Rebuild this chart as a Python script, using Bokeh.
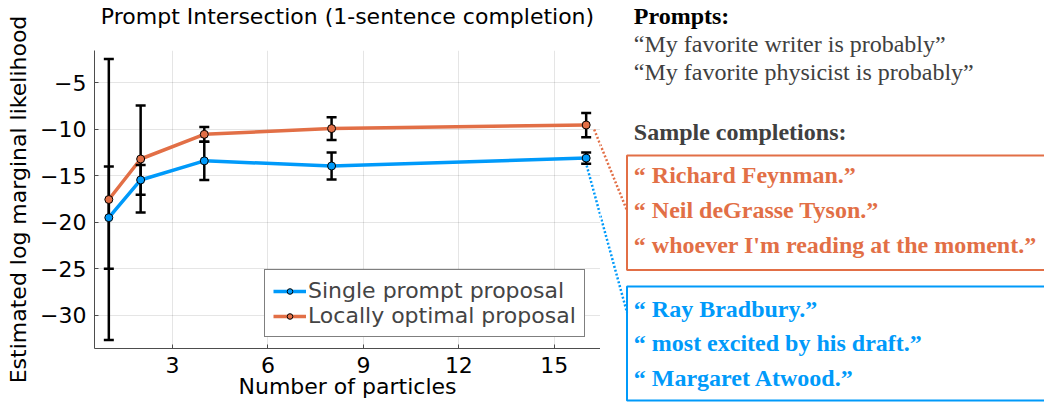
from bokeh.plotting import figure
from bokeh.models import Range1d, FixedTicker, Legend, LegendItem, ColumnDataSource, Title
from bokeh.layouts import row, column
from bokeh.embed import file_html
from bokeh.resources import INLINE
from bokeh.core.properties import value

# ---------------- data ----------------
particles = [1, 2, 4, 8, 16]
single_prompt = [-19.5, -15.45, -13.4, -13.95, -13.1]
single_prompt_err = [5.5, 1.6, 2.05, 1.45, 0.6]
locally_optimal = [-17.55, -13.2, -10.55, -9.93, -9.55]
locally_optimal_err = [15.1, 5.75, 0.8, 1.22, 1.3]
series_labels = ["Single prompt proposal", "Locally optimal proposal"]

x_ticks = [3, 6, 9, 12, 15]
y_ticks = [-30, -25, -20, -15, -10, -5]
y_tick_labels = ["\u221230", "\u221225", "\u221220", "\u221215", "\u221210", "\u22125"]

title_text = "Prompt Intersection (1-sentence completion)"
x_label = "Number of particles"
y_label = "Estimated log marginal likelihood"

prompts_header = "Prompts:"
prompts = ["\u201cMy favorite writer is probably\u201d",
           "\u201cMy favorite physicist is probably\u201d"]
completions_header = "Sample completions:"
locally_optimal_samples = ["\u201c Richard Feynman.\u201d",
                           "\u201c Neil deGrasse Tyson.\u201d",
                           "\u201c whoever I'm reading at the moment.\u201d"]
single_prompt_samples = ["\u201c Ray Bradbury.\u201d",
                         "\u201c most excited by his draft.\u201d",
                         "\u201c Margaret Atwood.\u201d"]

# ---------------- style / layout ----------------
BLUE = "#009AFA"
ORANGE = "#E26F46"
AXIS_COLOR = "#4d4d4d"
SANS = "DejaVu Sans"
SERIF = "Liberation Serif"

LEFT_W, RIGHT_W, H = 600, 444, 402
# chart frame in page pixels
FL, FR, FT, FB = 94, 600, 50, 348

def lohi(vals, errs):
    return [v - e for v, e in zip(vals, errs)], [v + e for v, e in zip(vals, errs)]

s_lo, s_hi = lohi(single_prompt, single_prompt_err)
l_lo, l_hi = lohi(locally_optimal, locally_optimal_err)

xmin, xmax = min(particles), max(particles)
ymin, ymax = min(s_lo + l_lo), max(s_hi + l_hi)
X0, X1 = xmin - 0.03 * (xmax - xmin), xmax + 0.03 * (xmax - xmin)
Y0, Y1 = ymin - 0.03 * (ymax - ymin), ymax + 0.03 * (ymax - ymin)

p = figure(width=LEFT_W, height=H, x_range=Range1d(X0, X1), y_range=Range1d(Y0, Y1),
           output_backend="svg", toolbar_location=None, title=title_text,
           min_border_left=FL, min_border_right=LEFT_W - FR,
           min_border_top=FT, min_border_bottom=H - FB)
p.outline_line_color = None
p.background_fill_color = "white"
p.border_fill_color = "white"

p.title.text_font = SANS
p.title.text_font_size = "22px"
p.title.text_font_style = "normal"
p.title.text_color = "black"
p.title.align = "center"
p.title.vertical_align = "bottom"
p.title.standoff = 0
# blank spacer between the title and the frame (lifts the title to the top edge)
spacer = Title(text=" ", text_font_size="18px", standoff=0)
p.above = [spacer] + list(p.above)

p.xaxis.ticker = FixedTicker(ticks=x_ticks)
p.yaxis.ticker = FixedTicker(ticks=y_ticks)
p.yaxis.major_label_overrides = {t: l for t, l in zip(y_ticks, y_tick_labels)}
p.xaxis.axis_label = x_label
p.yaxis.axis_label = y_label
for ax in (p.xaxis[0], p.yaxis[0]):
    ax.axis_line_color = AXIS_COLOR
    ax.axis_line_width = 1
    ax.major_tick_line_color = AXIS_COLOR
    ax.major_tick_in = 4
    ax.major_tick_out = 0
    ax.minor_tick_line_color = None
    ax.major_label_text_font = SANS
    ax.major_label_text_font_size = "22px"
    ax.major_label_text_color = "black"
    ax.axis_label_text_font = SANS
    ax.axis_label_text_font_size = "22px"
    ax.axis_label_text_font_style = "normal"
    ax.axis_label_text_color = "black"
p.xaxis.major_label_standoff = 8
p.xaxis.axis_label_standoff = -2
p.yaxis.major_label_standoff = 8
p.yaxis.axis_label_standoff = 6

p.grid.grid_line_color = "black"
p.grid.grid_line_alpha = 0.1
p.grid.grid_line_width = 1

src_s = ColumnDataSource(dict(x=particles, y=single_prompt, lo=s_lo, hi=s_hi))
src_l = ColumnDataSource(dict(x=particles, y=locally_optimal, lo=l_lo, hi=l_hi))

px_per_x = (FR - FL) / (X1 - X0)
px_per_y = (FB - FT) / (Y1 - Y0)
def page_to_data(X, Y):
    return X0 + (X - FL) / px_per_x, Y1 - (Y - FT) / px_per_y
def data_to_page(x, y):
    return FL + (x - X0) * px_per_x, FT + (Y1 - y) * px_per_y

ORANGE_BOX = (155, 269.5)
BLUE_BOX = (286, 400)
BOX_LEFT = 626.5
BOX_RIGHT = LEFT_W + RIGHT_W + 30

o_start = data_to_page(particles[-1], locally_optimal[-1])
o_start = (o_start[0] + 8, o_start[1] + 4.5)
o_end = (BOX_LEFT, ORANGE_BOX[0] + 55)
b_start = data_to_page(particles[-1], single_prompt[-1])
b_start = (b_start[0] + 0.5, b_start[1] + 7.5)
b_end = (BOX_LEFT, BLUE_BOX[0] + 26)

# part of the dotted connectors that lies inside the chart frame
for (st, en, col) in ((o_start, o_end, ORANGE), (b_start, b_end, BLUE)):
    d0 = page_to_data(*st)
    d1 = page_to_data(*en)
    p.line([d0[0], d1[0]], [d0[1], d1[1]], line_color=col, line_width=2.5, line_dash="2 2")

line_s = p.line("x", "y", source=src_s, line_color=BLUE, line_width=3.5)
line_l = p.line("x", "y", source=src_l, line_color=ORANGE, line_width=3.5)

for src in (src_s, src_l):
    p.segment(x0="x", y0="lo", x1="x", y1="hi", source=src, line_color="black", line_width=2.5)
    p.scatter("x", "lo", source=src, marker="dash", size=10, line_color="black", line_width=2.5)
    p.scatter("x", "hi", source=src, marker="dash", size=10, line_color="black", line_width=2.5)

mark_s = p.scatter("x", "y", source=src_s, marker="circle", size=8, fill_color=BLUE,
                   line_color="black", line_width=1)
mark_l = p.scatter("x", "y", source=src_l, marker="circle", size=8, fill_color=ORANGE,
                   line_color="black", line_width=1)

legend = Legend(items=[LegendItem(label=series_labels[0], renderers=[line_s, mark_s]),
                       LegendItem(label=series_labels[1], renderers=[line_l, mark_l])],
                location=(170, 11))
legend.label_text_font = SANS
legend.label_text_font_size = "22px"
legend.glyph_width = 33
legend.glyph_height = 14
legend.label_height = 24
legend.spacing = 0
legend.padding = 8
legend.margin = 0
legend.label_standoff = 2
legend.border_line_color = "black"
legend.border_line_width = 1
legend.background_fill_color = "white"
legend.background_fill_alpha = 1
p.add_layout(legend)

# ---------------- right-hand panel ----------------
q = figure(width=RIGHT_W, height=H, x_range=Range1d(FR, FR + RIGHT_W), y_range=Range1d(H, 0),
           output_backend="svg", toolbar_location=None,
           min_border_left=0, min_border_right=0, min_border_top=0, min_border_bottom=0,
           x_axis_type=None, y_axis_type=None)
q.outline_line_color = None
q.background_fill_color = "white"
q.border_fill_color = "white"

for (st, en, col) in ((o_start, o_end, ORANGE), (b_start, b_end, BLUE)):
    q.line([st[0], en[0]], [st[1], en[1]], line_color=col, line_width=2.5, line_dash="2 2")

q.quad(left=[BOX_LEFT], right=[BOX_RIGHT], top=[ORANGE_BOX[0]], bottom=[ORANGE_BOX[1]],
       fill_color=None, line_color=ORANGE, line_width=2)
q.quad(left=[BOX_LEFT], right=[BOX_RIGHT], top=[BLUE_BOX[0]], bottom=[BLUE_BOX[1]],
       fill_color=None, line_color=BLUE, line_width=2)

TX = 633.3
def draw_text(texts, ys, color, style):
    q.text(x=[TX] * len(texts), y=ys, text=texts, text_font=value(SERIF),
           text_font_size="24px", text_font_style=style, text_color=color,
           text_baseline="alphabetic", text_align="left")

draw_text([prompts_header], [15.7], "black", "bold")
draw_text(prompts, [43 + 28.3 * i for i in range(len(prompts))], "#404040", "normal")
draw_text([completions_header], [131.3], "#404040", "bold")
draw_text(locally_optimal_samples, [ORANGE_BOX[0] + 19.7 + 34.65 * i for i in range(3)], ORANGE, "bold")
draw_text(single_prompt_samples, [BLUE_BOX[0] + 22 + 34.5 * i for i in range(3)], BLUE, "bold")

layout = row(column(p), column(q))
open("out.html", "w").write(file_html(layout, INLINE))
